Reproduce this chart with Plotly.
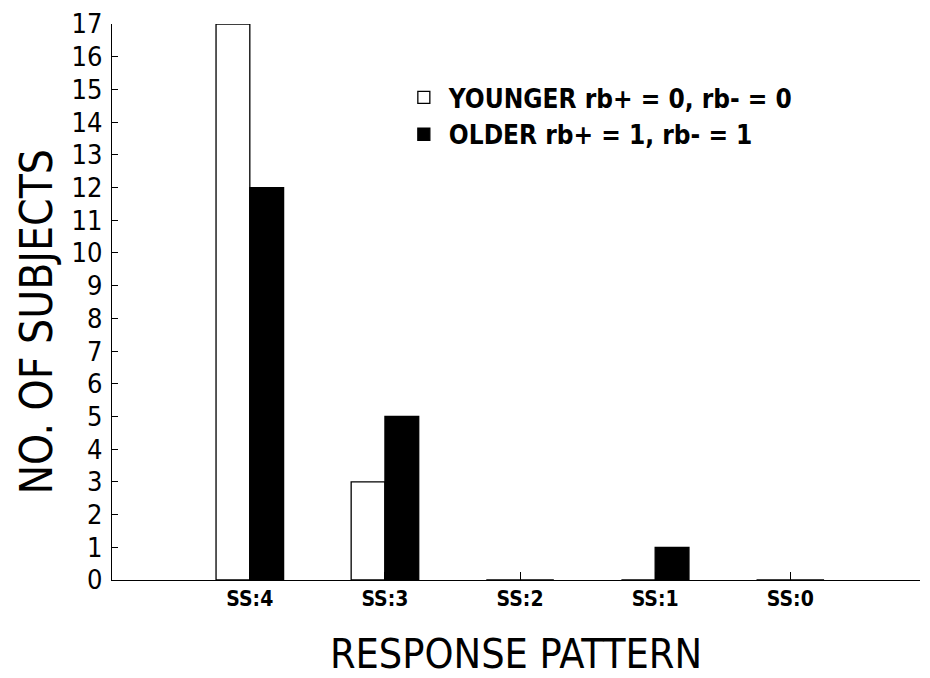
import plotly.graph_objects as go

categories = ["SS:4", "SS:3", "SS:2", "SS:1", "SS:0"]
younger = [17, 3, 0, 0, 0]
older = [12, 5, 0, 1, 0]
y_ticks = list(range(0, 18))

FONT = "DejaVu Sans Condensed, Liberation Sans Narrow, Liberation Sans, sans-serif"

fig = go.Figure()
fig.add_trace(go.Bar(
    x=categories, y=younger, name="YOUNGER rb+ = 0, rb- = 0",
    marker=dict(color="white", line=dict(color="black", width=1.3)),
))
fig.add_trace(go.Bar(
    x=categories, y=older, name="OLDER rb+ = 1, rb- = 1",
    marker=dict(color="black", line=dict(color="black", width=1.3)),
))

fig.update_layout(
    width=922, height=670,
    margin=dict(l=104, r=10, t=16, b=98),
    paper_bgcolor="white", plot_bgcolor="white",
    barmode="group", bargap=0.5, bargroupgap=0,
    font=dict(family=FONT, color="black"),
    legend=dict(x=0.355, y=0.91, xanchor="left", yanchor="top",
                font=dict(size=26, family=FONT, weight="bold"), bgcolor="rgba(0,0,0,0)",
                itemwidth=40),
    showlegend=True,
    annotations=[dict(
        text="NO. OF SUBJECTS", textangle=-90,
        xref="paper", yref="paper", x=-0.094, y=0.465,
        xanchor="center", yanchor="middle", showarrow=False,
        font=dict(size=44, family=FONT),
    )],
)
fig.update_xaxes(
    type="category", categoryorder="array", categoryarray=categories,
    range=[-1.02, 4.96], automargin=False,
    showline=True, linecolor="black", linewidth=1.3,
    ticks="inside", ticklen=8, tickcolor="black",
    tickfont=dict(size=21, family=FONT, weight="bold"),
    showgrid=False, zeroline=False,
    title=dict(text="RESPONSE PATTERN", font=dict(size=41, family=FONT), standoff=30),
)
fig.update_yaxes(
    range=[0, 17], tickvals=y_ticks, automargin=False,
    showline=True, linecolor="black", linewidth=1.3,
    ticks="inside", ticklen=6, tickcolor="black",
    tickfont=dict(size=27, family=FONT),
    ticklabelstandoff=3, ticklabeloverflow="allow",
    showgrid=False, zeroline=False,
)

fig.write_html("out.html")
